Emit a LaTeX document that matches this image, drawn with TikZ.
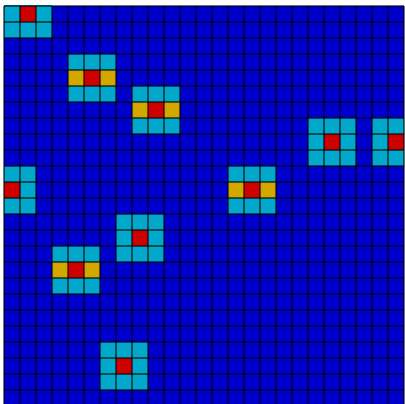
\documentclass[tikz,border=0pt]{standalone}
\usepackage{xcolor}
\usepackage{tikz}

\definecolor{fieldblue}{RGB}{0,0,204}
\definecolor{haloblue}{RGB}{0,168,204}
\definecolor{sidegold}{RGB}{208,168,0}
\definecolor{corered}{RGB}{208,0,0}

\begin{document}
\begin{tikzpicture}[
    x=0.4cm, y=-0.4cm,
    field/.style={fill=fieldblue},
    halo/.style={fill=haloblue},
    side/.style={fill=sidegold},
    core/.style={fill=corered},
    gridline/.style={draw=black, opacity=0.55, line width=0.8pt},
  ]

  % page: 405 x 404 px, one cell = 16 px
  \useasboundingbox (-0.25,-0.375) rectangle (25.0625,24.875);
  \clip (-0.25,-0.375) rectangle (25.0625,24.875);

  \begin{scope}
    \clip (0,0) rectangle (25,25);
    \fill[field] (0,0) rectangle (25,25);

    % clusters with a plain halo
    \foreach \cx/\cy in {1/0, 20/8, 24/8, 0/11, 8/14, 7/22} {
      \fill[halo] (\cx-1,\cy-1) rectangle (\cx+2,\cy+2);
      \fill[core] (\cx,\cy) rectangle (\cx+1,\cy+1);
    }

    % clusters with gold side cells
    \foreach \cx/\cy in {5/4, 9/6, 15/11, 4/16} {
      \fill[halo] (\cx-1,\cy-1) rectangle (\cx+2,\cy+2);
      \fill[side] (\cx-1,\cy) rectangle (\cx,\cy+1);
      \fill[side] (\cx+1,\cy) rectangle (\cx+2,\cy+1);
      \fill[core] (\cx,\cy) rectangle (\cx+1,\cy+1);
    }
  \end{scope}

  \foreach \k in {0,...,25} {
    \draw[gridline] (\k,0) -- (\k,25);
    \draw[gridline] (0,\k) -- (25,\k);
  }
\end{tikzpicture}
\end{document}
